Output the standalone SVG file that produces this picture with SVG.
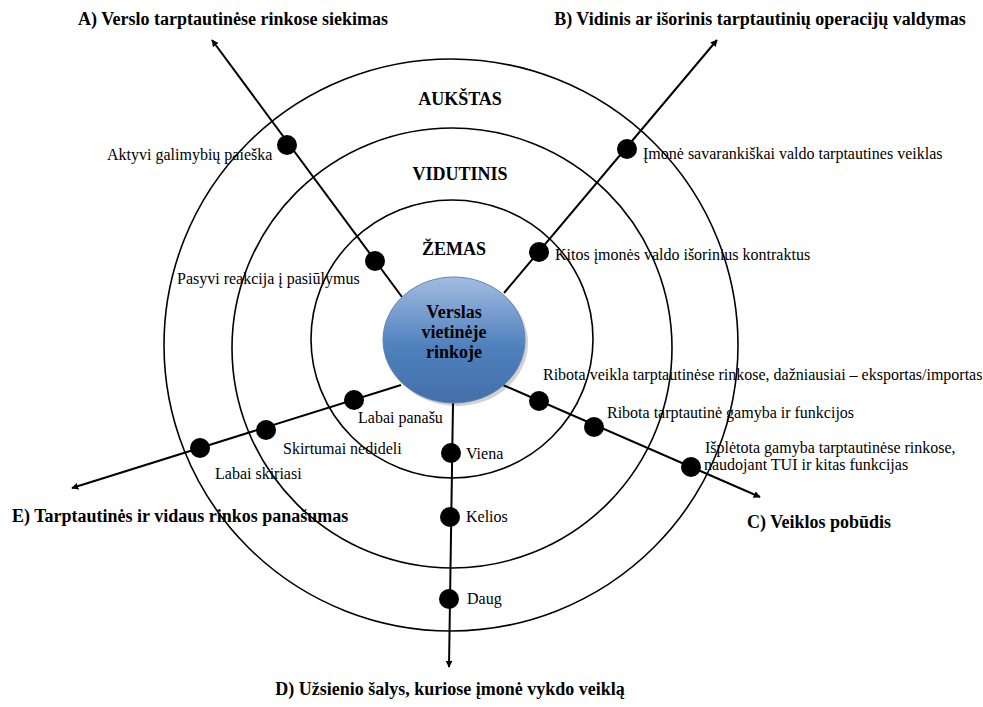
<svg xmlns="http://www.w3.org/2000/svg" width="983" height="707" viewBox="0 0 983 707">
<defs>
<style>
text{font-family:"Liberation Serif","Times New Roman",serif;fill:#000}
.t{font-size:16px}
.b{font-size:18px;font-weight:bold}
.ring{fill:none;stroke:#000;stroke-width:1.6}
.ax{stroke:#000;stroke-width:2;fill:none}
.dot{fill:#000}
</style>
<marker id="ar" viewBox="0 0 10 10" refX="9" refY="5" markerWidth="7" markerHeight="7" markerUnits="userSpaceOnUse" orient="auto">
<path d="M0,0 L10,5 L0,10 z" fill="#000"/>
</marker>
<linearGradient id="g" x1="0" y1="0" x2="0" y2="1">
<stop offset="0" stop-color="#A3BCE0"/>
<stop offset="0.55" stop-color="#4F81BD"/>
<stop offset="1" stop-color="#446FA8"/>
</linearGradient>
</defs>
<rect width="983" height="707" fill="#fff"/>

<g id="rings">
<ellipse class="ring" cx="451" cy="345" rx="287" ry="286"/>
<ellipse class="ring" cx="452" cy="348" rx="220" ry="220"/>
<ellipse class="ring" cx="452" cy="339" rx="141" ry="139"/>
<text class="b" x="460" y="105" text-anchor="middle">AUKŠTAS</text>
<text class="b" x="460" y="180" text-anchor="middle">VIDUTINIS</text>
<text class="b" x="454" y="255" text-anchor="middle">ŽEMAS</text>
</g>

<g id="connectors">
<line class="ax" x1="402" y1="297" x2="212" y2="40" marker-end="url(#ar)"/>
<line class="ax" x1="504" y1="293" x2="717" y2="40" marker-end="url(#ar)"/>
<line class="ax" x1="503" y1="385" x2="760" y2="497" marker-end="url(#ar)"/>
<line class="ax" x1="453" y1="403" x2="449" y2="667" marker-end="url(#ar)"/>
<line class="ax" x1="401" y1="385" x2="72" y2="488" marker-end="url(#ar)"/>
</g>

<g id="center">
<ellipse cx="457" cy="343" rx="71" ry="63" fill="#000" opacity="0.18"/>
<ellipse cx="454" cy="340" rx="71" ry="63" fill="url(#g)" stroke="#5C84B8" stroke-width="1"/>
<text class="b" x="454" y="318" text-anchor="middle">Verslas</text>
<text class="b" x="454" y="338" text-anchor="middle">vietinėje</text>
<text class="b" x="454" y="358" text-anchor="middle">rinkoje</text>
</g>

<g id="axisA">
<text class="b" x="233" y="25" text-anchor="middle">A) Verslo tarptautinėse rinkose siekimas</text>
<circle class="dot" cx="287" cy="145" r="10"/>
<text class="t" x="107" y="160">Aktyvi galimybių paieška</text>
<circle class="dot" cx="375" cy="261" r="10"/>
<text class="t" x="177" y="284">Pasyvi reakcija į pasiūlymus</text>
</g>

<g id="axisB">
<text class="b" x="760" y="25" text-anchor="middle">B) Vidinis ar išorinis tarptautinių operacijų valdymas</text>
<circle class="dot" cx="627" cy="149" r="10"/>
<text class="t" x="643" y="159">Įmonė savarankiškai valdo tarptautines veiklas</text>
<circle class="dot" cx="539" cy="252" r="10"/>
<text class="t" x="555" y="260">Kitos įmonės valdo išorinius kontraktus</text>
</g>

<g id="axisC">
<text class="b" x="747" y="528">C) Veiklos pobūdis</text>
<circle class="dot" cx="539" cy="401" r="10"/>
<text class="t" x="543" y="380">Ribota veikla tarptautinėse rinkose, dažniausiai – eksportas/importas</text>
<circle class="dot" cx="594" cy="427" r="10"/>
<text class="t" x="607" y="418">Ribota tarptautinė gamyba ir funkcijos</text>
<circle class="dot" cx="691" cy="467" r="10"/>
<text class="t" x="705" y="453">Išplėtota gamyba tarptautinėse rinkose,</text>
<text class="t" x="704" y="470">naudojant TUI ir kitas funkcijas</text>
</g>

<g id="axisD">
<text class="b" x="450" y="695" text-anchor="middle">D) Užsienio šalys, kuriose įmonė vykdo veiklą</text>
<circle class="dot" cx="451" cy="453" r="10"/>
<text class="t" x="466" y="459">Viena</text>
<circle class="dot" cx="450" cy="517" r="10"/>
<text class="t" x="466" y="522">Kelios</text>
<circle class="dot" cx="449" cy="599" r="10"/>
<text class="t" x="467" y="604">Daug</text>
</g>

<g id="axisE">
<text class="b" x="12" y="522">E) Tarptautinės ir vidaus rinkos panašumas</text>
<circle class="dot" cx="354" cy="400" r="10"/>
<text class="t" x="358" y="423">Labai panašu</text>
<circle class="dot" cx="266" cy="430" r="10"/>
<text class="t" x="283" y="454">Skirtumai nedideli</text>
<circle class="dot" cx="200" cy="448" r="10"/>
<text class="t" x="215" y="479">Labai skiriasi</text>
</g>
</svg>
